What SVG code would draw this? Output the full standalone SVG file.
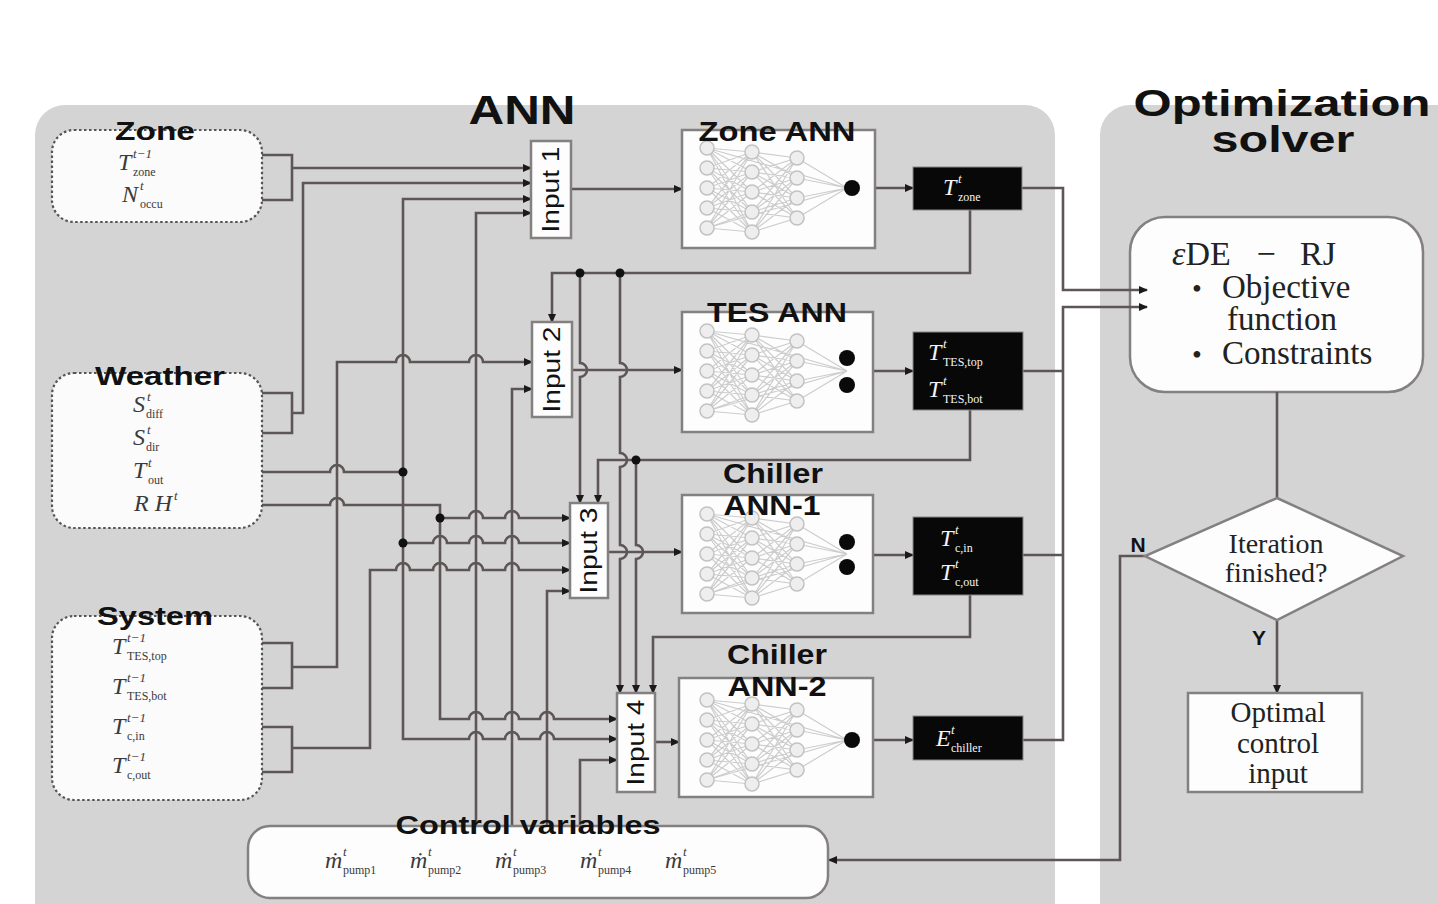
<svg xmlns="http://www.w3.org/2000/svg" width="1438" height="904" viewBox="0 0 1438 904">
<defs>
<style>
.panel{fill:#d4d4d4}
.grp{fill:#fbfbfb;stroke:#555;stroke-width:2.2;stroke-dasharray:2.5 2.5}
.box{fill:#fdfdfd;stroke:#858080;stroke-width:2.5}
.blk{fill:#080808;stroke:#888;stroke-width:1}
.w{fill:none;stroke:#5e5656;stroke-width:2.6}
.a{marker-end:url(#ah)}
.dot{fill:#111}
.ttl{font-family:"Liberation Sans",Arial,sans-serif;font-weight:bold;fill:#111;text-anchor:middle}
.inp{font-family:"Liberation Sans",Arial,sans-serif;font-size:24px;fill:#111;text-anchor:middle}
.mi{font-family:"Liberation Serif","DejaVu Serif","Times New Roman",serif;font-style:italic;font-size:24px;fill:#3a3a3a}
.sp{font-family:"Liberation Serif","DejaVu Serif","Times New Roman",serif;font-style:italic;font-size:13px;fill:#3a3a3a}
.sb{font-family:"Liberation Serif","DejaVu Serif","Times New Roman",serif;font-size:12px;fill:#3a3a3a}
.wt .mi,.wt .sp,.wt .sb{fill:#f4f4f4}
.sr{font-family:"Liberation Serif","Times New Roman",serif;fill:#222}
.nl{fill:none;stroke:#cdcdcd;stroke-width:1.2}
.nn{fill:#eeeeee;stroke:#c2c2c2;stroke-width:1.5}
.od{fill:#0a0a0a}
</style>
<marker id="ah" markerUnits="userSpaceOnUse" markerWidth="9" markerHeight="8" refX="8" refY="4" orient="auto"><path d="M0,0 L9,4 L0,8 z" fill="#1a1a1a"/></marker>
<g id="net">
<path class="nl" d="M25,18L70,22M25,18L70,42M25,18L70,62M25,18L70,82M25,18L70,102M25,38L70,22M25,38L70,42M25,38L70,62M25,38L70,82M25,38L70,102M25,58L70,22M25,58L70,42M25,58L70,62M25,58L70,82M25,58L70,102M25,78L70,22M25,78L70,42M25,78L70,62M25,78L70,82M25,78L70,102M25,98L70,22M25,98L70,42M25,98L70,62M25,98L70,82M25,98L70,102M70,22L115,28M70,22L115,48M70,22L115,68M70,22L115,88M70,42L115,28M70,42L115,48M70,42L115,68M70,42L115,88M70,62L115,28M70,62L115,48M70,62L115,68M70,62L115,88M70,82L115,28M70,82L115,48M70,82L115,68M70,82L115,88M70,102L115,28M70,102L115,48M70,102L115,68M70,102L115,88M115,28L165,58M115,48L165,58M115,68L165,58M115,88L165,58M25,18L165,58M25,98L165,58"/>
<circle class="nn" cx="25" cy="18" r="7"/><circle class="nn" cx="25" cy="38" r="7"/><circle class="nn" cx="25" cy="58" r="7"/><circle class="nn" cx="25" cy="78" r="7"/><circle class="nn" cx="25" cy="98" r="7"/>
<circle class="nn" cx="70" cy="22" r="7"/><circle class="nn" cx="70" cy="42" r="7"/><circle class="nn" cx="70" cy="62" r="7"/><circle class="nn" cx="70" cy="82" r="7"/><circle class="nn" cx="70" cy="102" r="7"/>
<circle class="nn" cx="115" cy="28" r="7"/><circle class="nn" cx="115" cy="48" r="7"/><circle class="nn" cx="115" cy="68" r="7"/><circle class="nn" cx="115" cy="88" r="7"/>
</g>
</defs>
<rect width="1438" height="904" fill="#ffffff"/>
<g id="panel-ann"><rect class="panel" x="35" y="105" width="1020" height="840" rx="30"/></g>
<g id="panel-opt"><rect class="panel" x="1100" y="105" width="380" height="840" rx="30"/></g>

<g id="solver">
<rect class="box" x="1130" y="217" width="293" height="175" rx="35"/>
<text class="sr" x="1172" y="265" font-size="34"><tspan font-style="italic">ε</tspan>DE</text>
<text class="sr" x="1266" y="265" font-size="34" text-anchor="middle">−</text>
<text class="sr" x="1300" y="265" font-size="34">RJ</text>
<text class="sr" x="1197" y="298" font-size="28" text-anchor="middle">•</text>
<text class="sr" x="1222" y="298" font-size="33">Objective</text>
<text class="sr" x="1227" y="330" font-size="33">function</text>
<text class="sr" x="1197" y="364" font-size="28" text-anchor="middle">•</text>
<text class="sr" x="1222" y="364" font-size="33">Constraints</text>
</g>

<g id="connectors">
<path class="w" d="M262,155 H292 V200 H262"/>
<path class="w a" d="M292,168 H531"/>
<path class="w" d="M262,393 H292 V433 H262"/>
<path class="w a" d="M292,413 H303 V183 H531"/>
<path class="w" d="M262,472 H330 A7 7 0 0 1 344,472 H403"/>
<path class="w a" d="M403,472 V199 H531"/>
<path class="w a" d="M403,472 V739 H469 A7 7 0 0 1 483,739 H505 A7 7 0 0 1 519,739 H540 A7 7 0 0 1 554,739 H617"/>
<path class="w a" d="M403,543 H433 A7 7 0 0 1 447,543 H469 A7 7 0 0 1 483,543 H505 A7 7 0 0 1 519,543 H570"/>
<path class="w a" d="M262,505 H330 A7 7 0 0 1 344,505 H440 V719 H469 A7 7 0 0 1 483,719 H505 A7 7 0 0 1 519,719 H540 A7 7 0 0 1 554,719 H617"/>
<path class="w a" d="M440,518 H469 A7 7 0 0 1 483,518 H505 A7 7 0 0 1 519,518 H570"/>
<path class="w a" d="M476,826 V213 H531"/>
<path class="w a" d="M512,826 V389 H532"/>
<path class="w a" d="M547,826 V591 H570"/>
<path class="w a" d="M580,826 V760 H617"/>
<path class="w" d="M262,643 H292 V688 H262"/>
<path class="w a" d="M292,667 H337 V362 H396 A7 7 0 0 1 410,362 H469 A7 7 0 0 1 483,362 H532"/>
<path class="w" d="M262,727 H292 V772 H262"/>
<path class="w a" d="M292,748 H370 V570 H396 A7 7 0 0 1 410,570 H433 A7 7 0 0 1 447,570 H469 A7 7 0 0 1 483,570 H505 A7 7 0 0 1 519,570 H570"/>
<path class="w a" d="M970,210 V273 H552 V322"/>
<path class="w a" d="M580,273 V363 A7 7 0 0 1 580,377 V503"/>
<path class="w a" d="M620,273 V363 A7 7 0 0 1 620,377 V453 A7 7 0 0 1 620,467 V545 A7 7 0 0 1 620,559 V693"/>
<path class="w a" d="M970,410 V460 H598 V503"/>
<path class="w a" d="M636,460 V545 A7 7 0 0 1 636,559 V693"/>
<path class="w a" d="M970,595 V637 H653 V693"/>
<path class="w a" d="M571,189 H682"/>
<path class="w a" d="M572,370 H682"/>
<path class="w a" d="M608,552 H682"/>
<path class="w a" d="M655,742 H679"/>
<path class="w a" d="M875,188 H913"/>
<path class="w a" d="M873,371 H913"/>
<path class="w a" d="M873,555 H913"/>
<path class="w a" d="M873,740 H913"/>
<path class="w a" d="M1022,188 H1063 V290 H1147"/>
<path class="w" d="M1023,371 H1063 M1023,555 H1063"/>
<path class="w a" d="M1023,740 H1063 V307 H1147"/>
<path class="w" d="M1277,392 V498"/>
<path class="w a" d="M1277,620 V693"/>
<path class="w a" d="M1145,556 H1120 V860 H829"/>
<circle class="dot" cx="403" cy="472" r="4.5"/>
<circle class="dot" cx="403" cy="543" r="4.5"/>
<circle class="dot" cx="440" cy="518" r="4.5"/>
<circle class="dot" cx="580" cy="273" r="4.5"/>
<circle class="dot" cx="620" cy="273" r="4.5"/>
<circle class="dot" cx="636" cy="460" r="4.5"/>
</g>

<text class="ttl" x="522" y="124" font-size="40" textLength="107" lengthAdjust="spacingAndGlyphs">ANN</text>
<g id="opt-title">
<text class="ttl" x="1282" y="116" font-size="37" textLength="297" lengthAdjust="spacingAndGlyphs">Optimization</text>
<text class="ttl" x="1283" y="152" font-size="37" textLength="143" lengthAdjust="spacingAndGlyphs">solver</text>
</g>

<g id="zone">
<rect class="grp" x="52" y="130" width="210" height="92" rx="22"/>
<text class="ttl" x="155" y="140" font-size="26" textLength="80" lengthAdjust="spacingAndGlyphs">Zone</text>
<text class="mi" x="118" y="170">T</text><text class="sp" x="133" y="158">t−1</text><text class="sb" x="133" y="176">zone</text>
<text class="mi" x="122" y="202">N</text><text class="sp" x="140" y="190">t</text><text class="sb" x="140" y="208">occu</text>
</g>
<g id="weather">
<rect class="grp" x="52" y="373" width="210" height="155" rx="22"/>
<text class="ttl" x="160" y="385" font-size="26" textLength="130" lengthAdjust="spacingAndGlyphs">Weather</text>
<text class="mi" x="133" y="412">S</text><text class="sp" x="147" y="401">t</text><text class="sb" x="146" y="418">diff</text>
<text class="mi" x="133" y="445">S</text><text class="sp" x="147" y="434">t</text><text class="sb" x="146" y="451">dir</text>
<text class="mi" x="133" y="478">T</text><text class="sp" x="148" y="467">t</text><text class="sb" x="148" y="484">out</text>
<text class="mi" x="134" y="511">R H</text><text class="sp" x="174" y="500">t</text>
</g>
<g id="system">
<rect class="grp" x="52" y="616" width="210" height="184" rx="22"/>
<text class="ttl" x="155" y="625" font-size="26" textLength="116" lengthAdjust="spacingAndGlyphs">System</text>
<text class="mi" x="112" y="654">T</text><text class="sp" x="127" y="642">t−1</text><text class="sb" x="127" y="660">TES,top</text>
<text class="mi" x="112" y="694">T</text><text class="sp" x="127" y="682">t−1</text><text class="sb" x="127" y="700">TES,bot</text>
<text class="mi" x="112" y="734">T</text><text class="sp" x="127" y="722">t−1</text><text class="sb" x="127" y="740">c,in</text>
<text class="mi" x="112" y="773">T</text><text class="sp" x="127" y="761">t−1</text><text class="sb" x="127" y="779">c,out</text>
</g>

<g id="input1"><rect class="box" x="531" y="141" width="40" height="97"/><text class="inp" transform="translate(551,189.5) rotate(-90)" dy="8" textLength="86" lengthAdjust="spacingAndGlyphs">Input 1</text></g>
<g id="input2"><rect class="box" x="532" y="322" width="40" height="95"/><text class="inp" transform="translate(552,369.5) rotate(-90)" dy="8" textLength="86" lengthAdjust="spacingAndGlyphs">Input 2</text></g>
<g id="input3"><rect class="box" x="570" y="503" width="38" height="95"/><text class="inp" transform="translate(589,550.5) rotate(-90)" dy="8" textLength="86" lengthAdjust="spacingAndGlyphs">Input 3</text></g>
<g id="input4"><rect class="box" x="617" y="693" width="38" height="99"/><text class="inp" transform="translate(636,742.5) rotate(-90)" dy="8" textLength="86" lengthAdjust="spacingAndGlyphs">Input 4</text></g>

<g id="zone-ann">
<rect class="box" x="682" y="130" width="193" height="118"/>
<use href="#net" x="682" y="130"/>
<circle class="od" cx="852" cy="188" r="8"/>
<text class="ttl" x="777" y="141" font-size="28" textLength="157" lengthAdjust="spacingAndGlyphs">Zone ANN</text>
</g>
<g id="tes-ann">
<rect class="box" x="682" y="312" width="191" height="120"/>
<use href="#net" x="682" y="313"/>
<circle class="od" cx="847" cy="358" r="8"/><circle class="od" cx="847" cy="385" r="8"/>
<text class="ttl" x="777" y="322" font-size="28" textLength="140" lengthAdjust="spacingAndGlyphs">TES ANN</text>
</g>
<g id="chiller-ann-1">
<rect class="box" x="682" y="495" width="191" height="118"/>
<use href="#net" x="682" y="496"/>
<circle class="od" cx="847" cy="542" r="8"/><circle class="od" cx="847" cy="567" r="8"/>
<text class="ttl" x="773" y="483" font-size="28" textLength="100" lengthAdjust="spacingAndGlyphs">Chiller</text>
<text class="ttl" x="772" y="515" font-size="28" textLength="97" lengthAdjust="spacingAndGlyphs">ANN-1</text>
</g>
<g id="chiller-ann-2">
<rect class="box" x="679" y="678" width="194" height="119"/>
<use href="#net" x="682" y="682"/>
<circle class="od" cx="852" cy="740" r="8"/>
<text class="ttl" x="777" y="664" font-size="28" textLength="100" lengthAdjust="spacingAndGlyphs">Chiller</text>
<text class="ttl" x="777" y="696" font-size="28" textLength="99" lengthAdjust="spacingAndGlyphs">ANN-2</text>
</g>

<g id="out-zone" class="wt">
<rect class="blk" x="913" y="167" width="109" height="43"/>
<text class="mi" x="943" y="195">T</text><text class="sp" x="958" y="183">t</text><text class="sb" x="958" y="201">zone</text>
</g>
<g id="out-tes" class="wt">
<rect class="blk" x="913" y="332" width="110" height="78"/>
<text class="mi" x="928" y="360">T</text><text class="sp" x="943" y="348">t</text><text class="sb" x="943" y="366">TES,top</text>
<text class="mi" x="928" y="397">T</text><text class="sp" x="943" y="385">t</text><text class="sb" x="943" y="403">TES,bot</text>
</g>
<g id="out-chiller-1" class="wt">
<rect class="blk" x="913" y="517" width="110" height="78"/>
<text class="mi" x="940" y="546">T</text><text class="sp" x="955" y="534">t</text><text class="sb" x="955" y="552">c,in</text>
<text class="mi" x="940" y="580">T</text><text class="sp" x="955" y="568">t</text><text class="sb" x="955" y="586">c,out</text>
</g>
<g id="out-chiller-2" class="wt">
<rect class="blk" x="913" y="716" width="110" height="44"/>
<text class="mi" x="936" y="746">E</text><text class="sp" x="951" y="734">t</text><text class="sb" x="951" y="752">chiller</text>
</g>

<g id="control">
<rect class="box" x="248" y="826" width="580" height="72" rx="22"/>
<text class="ttl" x="528" y="834" font-size="25" textLength="265" lengthAdjust="spacingAndGlyphs">Control variables</text>
<text class="mi" x="325" y="868">ṁ</text><text class="sp" x="343" y="856">t</text><text class="sb" x="343" y="874">pump1</text>
<text class="mi" x="410" y="868">ṁ</text><text class="sp" x="428" y="856">t</text><text class="sb" x="428" y="874">pump2</text>
<text class="mi" x="495" y="868">ṁ</text><text class="sp" x="513" y="856">t</text><text class="sb" x="513" y="874">pump3</text>
<text class="mi" x="580" y="868">ṁ</text><text class="sp" x="598" y="856">t</text><text class="sb" x="598" y="874">pump4</text>
<text class="mi" x="665" y="868">ṁ</text><text class="sp" x="683" y="856">t</text><text class="sb" x="683" y="874">pump5</text>
</g>

<g id="decision">
<polygon points="1277,498 1403,556 1277,620 1145,556" fill="#fdfdfd" stroke="#858080" stroke-width="2.5"/>
<text class="sr" x="1276" y="553" font-size="28" text-anchor="middle">Iteration</text>
<text class="sr" x="1276" y="582" font-size="28" text-anchor="middle">finished?</text>
<text class="ttl" x="1138" y="552" font-size="21">N</text>
<text class="ttl" x="1259" y="645" font-size="21">Y</text>
</g>
<g id="optimal">
<rect class="box" x="1188" y="693" width="174" height="99"/>
<text class="sr" x="1278" y="722" font-size="29" text-anchor="middle">Optimal</text>
<text class="sr" x="1278" y="753" font-size="29" text-anchor="middle">control</text>
<text class="sr" x="1278" y="783" font-size="29" text-anchor="middle">input</text>
</g>
</svg>
